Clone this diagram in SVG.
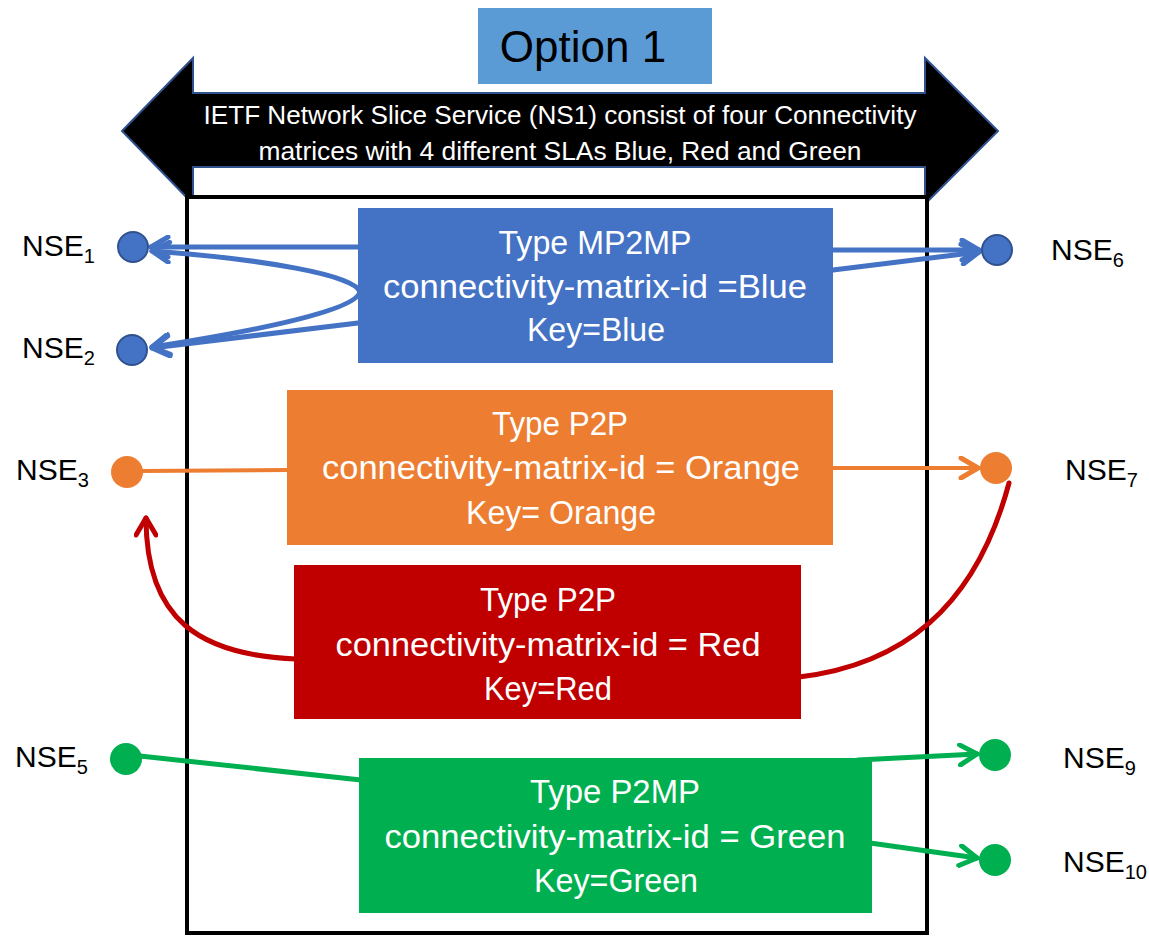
<svg xmlns="http://www.w3.org/2000/svg" width="1149" height="937" viewBox="0 0 1149 937">
  <style>
    .lbl { font-family: "Liberation Sans", Arial, sans-serif; font-size: 30px; fill: #000; }
    .sub { font-size: 20px; }
    .box-text { font-family: "Liberation Sans", Arial, sans-serif; font-size: 34px; fill: #fff; text-anchor: middle; }
    .banner { font-family: "Liberation Sans", Arial, sans-serif; font-size: 26px; fill: #fff; text-anchor: middle; }
    .blue-line { stroke: #4472C4; stroke-width: 5; fill: none; stroke-linecap: round; }
    .orange-line { stroke: #ED7D31; stroke-width: 4; fill: none; stroke-linecap: round; }
    .red-line { stroke: #C00000; stroke-width: 5; fill: none; stroke-linecap: round; }
    .green-line { stroke: #00B050; stroke-width: 5; fill: none; stroke-linecap: round; }
  </style>
  <defs>
    <marker id="arrow-blue" viewBox="-22 -12 26 24" refX="0" refY="0" markerWidth="26" markerHeight="24" markerUnits="userSpaceOnUse" orient="auto">
      <path d="M-17,-10 L0,0 L-17,10" fill="none" stroke="#4472C4" stroke-width="5" stroke-linecap="round" stroke-linejoin="round"/>
    </marker>
    <marker id="arrow-orange" viewBox="-22 -12 26 24" refX="0" refY="0" markerWidth="26" markerHeight="24" markerUnits="userSpaceOnUse" orient="auto">
      <path d="M-17,-10 L0,0 L-17,10" fill="none" stroke="#ED7D31" stroke-width="5" stroke-linecap="round" stroke-linejoin="round"/>
    </marker>
    <marker id="arrow-red" viewBox="-22 -12 26 24" refX="0" refY="0" markerWidth="26" markerHeight="24" markerUnits="userSpaceOnUse" orient="auto">
      <path d="M-17,-10 L0,0 L-17,10" fill="none" stroke="#C00000" stroke-width="5" stroke-linecap="round" stroke-linejoin="round"/>
    </marker>
    <marker id="arrow-green" viewBox="-22 -12 26 24" refX="0" refY="0" markerWidth="26" markerHeight="24" markerUnits="userSpaceOnUse" orient="auto">
      <path d="M-17,-10 L0,0 L-17,10" fill="none" stroke="#00B050" stroke-width="5" stroke-linecap="round" stroke-linejoin="round"/>
    </marker>
  </defs>

  <rect width="1149" height="937" fill="#fff"/>

  <!-- Title -->
  <g id="title">
    <rect x="478" y="8" width="234" height="76" fill="#5B9BD5"/>
    <text x="583" y="62" font-family="Liberation Sans, Arial, sans-serif" font-size="44" fill="#000" text-anchor="middle">Option 1</text>
  </g>

  <!-- Double-headed service banner -->
  <g id="service-banner">
    <polygon points="122,131 193,58 193,93 925,93 925,58 998,131 925,204 925,167 193,167 193,204" fill="#000" stroke="#2F528F" stroke-width="2"/>
    <text class="banner" x="560" y="124" textLength="713" lengthAdjust="spacingAndGlyphs">IETF Network Slice Service (NS1) consist of four Connectivity</text>
    <text class="banner" x="560" y="160" textLength="603" lengthAdjust="spacingAndGlyphs">matrices with 4 different SLAs Blue, Red and Green</text>
  </g>

  <!-- Slice boundary -->
  <g id="slice-boundary">
    <rect x="187" y="197" width="740" height="736" fill="#fff" stroke="#000" stroke-width="4"/>
  </g>

  <!-- Connectors -->
  <g id="connectors">
    <!-- Blue MP2MP -->
    <line class="blue-line" x1="358" y1="247" x2="151" y2="247" marker-end="url(#arrow-blue)"/>
    <path class="blue-line" d="M360,292 C356,275 262,259 152,251" marker-end="url(#arrow-blue)"/>
    <path class="blue-line" d="M360,292 C356,310 262,330 152,347" marker-end="url(#arrow-blue)"/>
    <line class="blue-line" x1="358" y1="323" x2="152" y2="348" marker-end="url(#arrow-blue)"/>
    <line class="blue-line" x1="833" y1="250" x2="979" y2="250" marker-end="url(#arrow-blue)"/>
    <line class="blue-line" x1="833" y1="270" x2="979" y2="252" marker-end="url(#arrow-blue)"/>
    <!-- Orange P2P -->
    <line class="orange-line" x1="140" y1="471" x2="289" y2="470"/>
    <line class="orange-line" x1="831" y1="468" x2="978" y2="468" marker-end="url(#arrow-orange)"/>
    <!-- Red P2P -->
    <path class="red-line" d="M296,659 C200,655 146,620 146,518" marker-end="url(#arrow-red)"/>
    <path class="red-line" d="M799,677 C900,665 975,610 1009,483"/>
    <!-- Green P2MP -->
    <line class="green-line" x1="140" y1="756" x2="361" y2="780"/>
    <line class="green-line" x1="858" y1="760" x2="977" y2="754" marker-end="url(#arrow-green)"/>
    <line class="green-line" x1="870" y1="843" x2="977" y2="858" marker-end="url(#arrow-green)"/>
  </g>

  <!-- Connectivity matrices -->
  <g id="cm-blue">
    <rect x="358" y="208" width="475" height="155" fill="#4472C4"/>
    <text class="box-text" x="595" y="254" textLength="193" lengthAdjust="spacingAndGlyphs">Type MP2MP</text>
    <text class="box-text" x="595" y="298" textLength="424" lengthAdjust="spacingAndGlyphs">connectivity-matrix-id =Blue</text>
    <text class="box-text" x="596" y="341" textLength="138" lengthAdjust="spacingAndGlyphs">Key=Blue</text>
  </g>
  <g id="cm-orange">
    <rect x="287" y="390" width="546" height="155" fill="#ED7D31"/>
    <text class="box-text" x="560" y="435" textLength="136" lengthAdjust="spacingAndGlyphs">Type P2P</text>
    <text class="box-text" x="561" y="479" textLength="478" lengthAdjust="spacingAndGlyphs">connectivity-matrix-id = Orange</text>
    <text class="box-text" x="561" y="524" textLength="190" lengthAdjust="spacingAndGlyphs">Key= Orange</text>
  </g>
  <g id="cm-red">
    <rect x="294" y="565" width="507" height="154" fill="#C00000"/>
    <text class="box-text" x="548" y="611" textLength="136" lengthAdjust="spacingAndGlyphs">Type P2P</text>
    <text class="box-text" x="548" y="656" textLength="425" lengthAdjust="spacingAndGlyphs">connectivity-matrix-id = Red</text>
    <text class="box-text" x="548" y="700" textLength="128" lengthAdjust="spacingAndGlyphs">Key=Red</text>
  </g>
  <g id="cm-green">
    <rect x="359" y="758" width="513" height="155" fill="#00B050"/>
    <text class="box-text" x="615" y="803" textLength="170" lengthAdjust="spacingAndGlyphs">Type P2MP</text>
    <text class="box-text" x="615" y="848" textLength="461" lengthAdjust="spacingAndGlyphs">connectivity-matrix-id = Green</text>
    <text class="box-text" x="616" y="892" textLength="164" lengthAdjust="spacingAndGlyphs">Key=Green</text>
  </g>

  <!-- Endpoints -->
  <g id="nse1">
    <circle cx="133" cy="247" r="15" fill="#4472C4" stroke="#2F528F" stroke-width="2"/>
    <text class="lbl" x="22" y="256">NSE<tspan class="sub" dy="7">1</tspan></text>
  </g>
  <g id="nse2">
    <circle cx="132" cy="350" r="15" fill="#4472C4" stroke="#2F528F" stroke-width="2"/>
    <text class="lbl" x="22" y="358">NSE<tspan class="sub" dy="7">2</tspan></text>
  </g>
  <g id="nse3">
    <circle cx="127" cy="472" r="16" fill="#ED7D31"/>
    <text class="lbl" x="16" y="480">NSE<tspan class="sub" dy="7">3</tspan></text>
  </g>
  <g id="nse5">
    <circle cx="126" cy="759" r="16" fill="#00B050"/>
    <text class="lbl" x="15" y="767">NSE<tspan class="sub" dy="7">5</tspan></text>
  </g>
  <g id="nse6">
    <circle cx="997" cy="250" r="15" fill="#4472C4" stroke="#2F528F" stroke-width="2"/>
    <text class="lbl" x="1051" y="260">NSE<tspan class="sub" dy="7">6</tspan></text>
  </g>
  <g id="nse7">
    <circle cx="996" cy="468" r="16" fill="#ED7D31"/>
    <text class="lbl" x="1065" y="480">NSE<tspan class="sub" dy="7">7</tspan></text>
  </g>
  <g id="nse9">
    <circle cx="995" cy="755" r="16" fill="#00B050"/>
    <text class="lbl" x="1063" y="768">NSE<tspan class="sub" dy="7">9</tspan></text>
  </g>
  <g id="nse10">
    <circle cx="995" cy="860" r="16" fill="#00B050"/>
    <text class="lbl" x="1063" y="872">NSE<tspan class="sub" dy="7">10</tspan></text>
  </g>
</svg>
